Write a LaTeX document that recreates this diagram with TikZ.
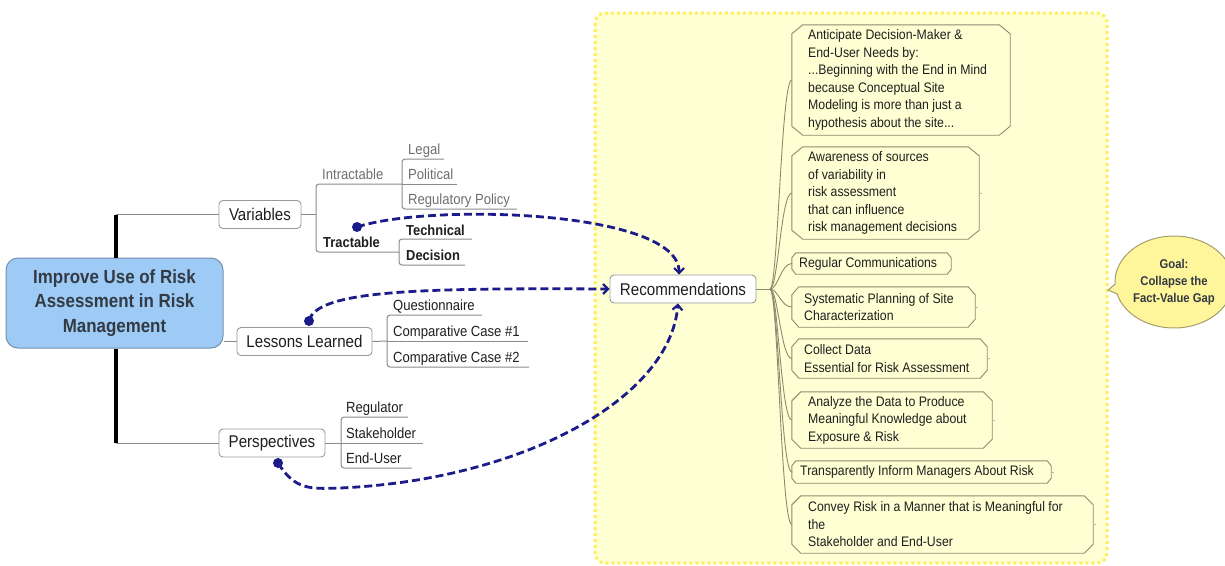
\documentclass[tikz,border=0pt]{standalone}
\usepackage{fontspec}
\setmainfont{Liberation Sans}[FakeStretch=0.89]
\usetikzlibrary{shapes.misc,shapes.callouts,shapes.geometric,arrows.meta}
\definecolor{navy}{HTML}{1B1B8A}
\definecolor{boxline}{HTML}{9A9A9A}
\definecolor{treeline}{HTML}{8A8A8A}
\definecolor{mainfill}{HTML}{9DCBF6}
\definecolor{mainline}{HTML}{7090B0}
\definecolor{areafill}{HTML}{FFFFD4}
\definecolor{arealine}{HTML}{FFEF5A}
\definecolor{goalfill}{HTML}{FFF59B}
\definecolor{goalline}{HTML}{A39E6E}
\definecolor{recline}{HTML}{8C8A70}
\definecolor{txt}{HTML}{1E1E1E}
\definecolor{graytxt}{HTML}{6E6E6E}
\definecolor{maintxt}{HTML}{333A44}
\newcommand\octo[3]{%
  \draw[recborder] ([xshift=#2]#1.north west) -- ([xshift=-#2]#1.north east) -- ([yshift=-#3]#1.north east) -- ([yshift=#3]#1.south east) -- ([xshift=-#2]#1.south east) -- ([xshift=#2]#1.south west) -- ([yshift=#3]#1.south west) -- ([yshift=-#3]#1.north west) -- cycle;}
\begin{document}
\begin{tikzpicture}[x=1pt,y=-1pt,
  mainbox/.style={rectangle, rounded corners=12pt, draw=mainline, fill=mainfill, line width=1pt,
    minimum width=217pt, minimum height=90pt, align=center, text=maintxt,
    font=\bfseries\fontsize{19}{24.3}\selectfont},
  topic/.style={rectangle, rounded corners=4pt, draw=boxline, fill=white, line width=0.9pt,
    minimum height=28pt, inner sep=0pt, text=txt, font=\fontsize{17}{20}\selectfont},
  tree/.style={draw=treeline, line width=1pt},
  trunk/.style={draw=black, line width=4pt},
  gtext/.style={anchor=base west, inner sep=0pt, text=graytxt, font=\fontsize{14.7}{17}\selectfont},
  ntext/.style={anchor=base west, inner sep=0pt, text=txt, font=\fontsize{14.7}{17}\selectfont},
  btext/.style={anchor=base west, inner sep=0pt, text=txt, font=\bfseries\fontsize{14.5}{17}\selectfont},
  area/.style={draw=arealine, fill=areafill, line width=3pt, dash pattern=on 3pt off 3pt, rounded corners=10pt},
  rbox/.style={rectangle, draw=none, inner sep=0pt},
  recborder/.style={draw=recline, line width=0.9pt},
  rtext/.style={anchor=west, inner sep=0pt, align=left, text=txt, font=\fontsize{13.8}{17.5}\selectfont},
  rtree/.style={draw=recline, line width=0.9pt},
  stub/.style={draw=recline!60, line width=0.8pt},
  dot/.style={circle, fill=navy, inner sep=0pt, minimum size=10pt},
  link/.style={draw=navy, line width=2.8pt, dash pattern=on 8pt off 4pt, -{Straight Barb[length=5pt,width=10pt,line width=2.2pt]}},
  goal/.style={ellipse callout, draw=goalline, fill=goalfill, line width=1pt, minimum width=118pt, minimum height=92pt,
    callout pointer arc=12, align=center, text=maintxt, inner sep=0pt, font=\bfseries\fontsize{12.7}{17}\selectfont}
]
\useasboundingbox (0,0) rectangle (1225,565);
\clip (0,0) rectangle (1225,565);

% yellow area
\path[area] (595,13) rectangle (1107,563);

% main node and branches
\node[mainbox] (main) at (114.5,303) {Improve Use of Risk\\Assessment in Risk\\Management};
\node[topic, minimum width=82pt] (var) at (260,214.5) {Variables};
\node[topic, minimum width=135pt] (les) at (304.5,341.5) {Lessons Learned};
\node[topic, minimum width=106pt] (per) at (272,443) {Perspectives};
\node[topic, minimum width=146pt] (rec) at (683,289) {Recommendations};

\coordinate (ttop) at (116,214.5);
\coordinate (tbot) at (116,443);
\draw[tree] (ttop) -- (var.west);
\draw[tree] (tbot) -- (per.west);
\draw[tree] (main.east |- les.west) -- (les.west);
\draw[trunk] (ttop) -- (main.north -| ttop);
\draw[trunk] (main.south -| tbot) -- (tbot);

% Variables subtree
\draw[tree] (var.east) -- (316,214.5);
\draw[tree, rounded corners=3pt] (402,184) -- (316,184) -- (316,252) -- (399,252);
\draw[tree, rounded corners=3pt] (444,159) -- (402,159) -- (402,209) -- (517,209);
\draw[tree] (402,184) -- (457,184);
\draw[tree, rounded corners=3pt] (472,239) -- (399,239) -- (399,265) -- (465,265);
\node[gtext] (intr) at (322,179) {Intractable};
\node[gtext] (legal) at (408,154) {Legal};
\node[gtext] (pol) at (408,179) {Political};
\node[gtext] (regp) at (408,204) {Regulatory Policy};
\node[btext] (tract) at (323,247) {Tractable};
\node[btext] (tech) at (406,235) {Technical};
\node[btext] (deci) at (406,260) {Decision};

% Lessons subtree
\draw[tree] (les.east) -- (387,341);
\draw[tree, rounded corners=3pt] (482,315) -- (387,315) -- (387,367) -- (529,367);
\draw[tree] (387,341) -- (528,341);
\node[ntext] (quest) at (393,310) {Questionnaire};
\node[ntext] (case1) at (393,336) {Comparative Case \#1};
\node[ntext] (case2) at (393,362) {Comparative Case \#2};

% Perspectives subtree
\draw[tree] (per.east) -- (341,443);
\draw[tree, rounded corners=3pt] (408,417) -- (341,417) -- (341,468) -- (412,468);
\draw[tree] (341,443) -- (423,443);
\node[ntext] (regu) at (346,412) {Regulator};
\node[ntext] (stake) at (346,438) {Stakeholder};
\node[ntext] (endu) at (346,463) {End-User};

% Recommendation boxes
\node[rbox, minimum width=218pt, minimum height=110pt] (r1) at (901,80) {};
\node[rbox, minimum width=187pt, minimum height=92pt] (r2) at (885.5,193) {};
\node[rbox, minimum width=159pt, minimum height=21pt] (r3) at (871.5,263.5) {};
\node[rbox, minimum width=183pt, minimum height=40pt] (r4) at (883.5,307) {};
\node[rbox, minimum width=195pt, minimum height=39pt] (r5) at (889.5,358.5) {};
\node[rbox, minimum width=200pt, minimum height=56pt] (r6) at (892,420) {};
\node[rbox, minimum width=259pt, minimum height=22pt] (r7) at (921.5,472) {};
\node[rbox, minimum width=301pt, minimum height=57pt] (r8) at (942.5,524.5) {};
\octo{r1}{11pt}{9pt}
\octo{r2}{11pt}{9pt}
\octo{r3}{4pt}{5pt}
\octo{r4}{7pt}{8pt}
\octo{r5}{7pt}{8pt}
\octo{r6}{9pt}{9pt}
\octo{r7}{4pt}{5pt}
\octo{r8}{9pt}{9pt}
\node[rtext] (t1) at (808,80) {Anticipate Decision-Maker \&\\End-User Needs by:\\...Beginning with the End in Mind\\because Conceptual Site\\Modeling is more than just a\\hypothesis about the site...};
\node[rtext] (t2) at (808,193) {Awareness of sources\\of variability in\\risk assessment\\that can influence\\risk management decisions};
\node[rtext] (t3) at (799,263.5) {Regular Communications};
\node[rtext] (t4) at (804,307) {Systematic Planning of Site\\Characterization};
\node[rtext] (t5) at (804,358.5) {Collect Data\\Essential for Risk Assessment};
\node[rtext] (t6) at (808,420) {Analyze the Data to Produce\\Meaningful Knowledge about\\Exposure \& Risk};
\node[rtext] (t7) at (800,472) {Transparently Inform Managers About Risk};
\node[rtext] (t8) at (808,524.5) {Convey Risk in a Manner that is Meaningful for\\the\\Stakeholder and End-User};

% small stubs on the right of boxes
\foreach \b in {r2,r4,r5,r6,r7,r8} {\draw[stub] (\b.east) -- ++(3,0);}

% fan connectors
\coordinate (fork) at (770,289);
\draw[rtree] (rec.east) -- (fork);
\foreach \b in {r1,r2,r3,r4,r5,r6,r7,r8} {
  \draw[rtree] (fork) .. controls (778,289) and (781,0 |- \b.west) .. (\b.west);
}

% goal callout
\node[goal, callout absolute pointer={(1108,290)}] (goal) at (1174,282) {Goal:\\Collapse the\\Fact-Value Gap};

% dashed links
\node[dot] (d1) at (357,227) {};
\node[dot] (d2) at (309,321) {};
\node[dot] (d3) at (278,463) {};
\draw[link] (d1.center) .. controls (430,203) and (680,210) .. ([xshift=-4pt]rec.north);
\draw[link] (d2.center) .. controls (316,290) and (420,288) .. (rec.west);
\draw[link] (d3.center) .. controls (295,490) and (310,489) .. (340,488) .. controls (520,480) and (670,400) .. ([xshift=-5pt]rec.south);
\end{tikzpicture}
\end{document}
